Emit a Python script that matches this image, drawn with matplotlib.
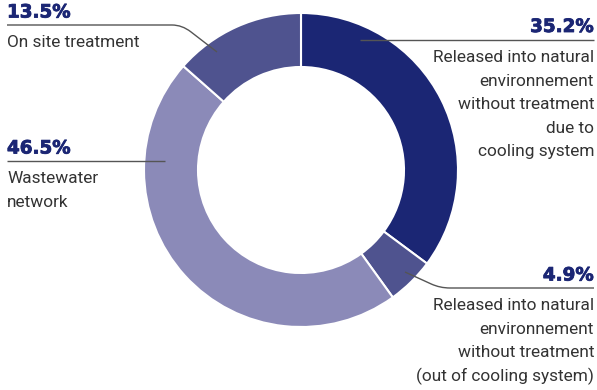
import numpy as np
import matplotlib.pyplot as plt
import matplotlib.patheffects as pe
from matplotlib.path import Path
from matplotlib.patches import PathPatch

# shares of discharged water by destination, clockwise from 12 o'clock
shares = [35.2, 4.9, 46.5, 13.5]
pct_labels = ['35.2%', '4.9%', '46.5%', '13.5%']
descriptions = [
    ['Released into natural', 'environnement', 'without treatment', 'due to', 'cooling system'],
    ['Released into natural', 'environnement', 'without treatment', '(out of cooling system)'],
    ['Wastewater', 'network'],
    ['On site treatment'],
]
colors = ['#1b2674', '#4f538f', '#8b8ab8', '#4f538f']

W, H = 597, 390
navy = '#1b2674'
textc = '#333333'
linec = '#555555'
body_font = ['Roboto', 'DejaVu Sans']

fig = plt.figure(figsize=(W / 100, H / 100), dpi=100)
ax = fig.add_axes([0, 0, 1, 1])

cx, cy, r_out, r_in = 301, H - 170, 157, 103
ax.pie(shares, colors=colors, startangle=90, counterclock=False,
       center=(cx, cy), radius=r_out, frame=True,
       wedgeprops=dict(width=r_out - r_in, edgecolor='white', linewidth=1.5))
ax.set_xlim(0, W)
ax.set_ylim(0, H)
ax.set_aspect('equal')
ax.axis('off')

# label blocks: (side, x of text, baseline of pct, leader path in px from top)
layout = [
    ('right', 594, 32, [(594, 40), (360, 40)]),
    ('right', 594, 280.5, [(594, 288), (440, 288), (405, 272)]),
    ('left', 7, 153.5, [(7, 161), (165, 161)]),
    ('left', 7, 17.5, [(7, 25), (182, 25), (217, 52)]),
]
first_line = [62, 310, 183, 47]
step = 23.6


def leader(pts):
    verts = [(pts[0][0], H - pts[0][1])]
    codes = [Path.MOVETO]
    if len(pts) == 2:
        verts.append((pts[1][0], H - pts[1][1]))
        codes.append(Path.LINETO)
    else:
        (x0, y0), (x1, y1), (x2, y2) = pts
        # round the elbow a little
        d = 10 if x1 > x0 else -10
        ex = x1 - d
        verts += [(ex, H - y1), (x1, H - y1), (x1 + (x2 - x1) * 0.25, H - (y1 + (y2 - y1) * 0.25)), (x2, H - y2)]
        codes += [Path.LINETO, Path.CURVE3, Path.CURVE3, Path.LINETO]
    ax.add_patch(PathPatch(Path(verts, codes), fill=False, edgecolor=linec, lw=1.0, zorder=5))


heavy = [pe.withStroke(linewidth=0.6, foreground=navy)]
for i, (side, tx, pct_y, pts) in enumerate(layout):
    ha = 'right' if side == 'right' else 'left'
    ax.text(tx, H - pct_y, pct_labels[i], ha=ha, va='baseline', fontsize=13.2,
            fontweight='bold', color=navy, family='DejaVu Sans', path_effects=heavy)
    leader(pts)
    for j, line in enumerate(descriptions[i]):
        ax.text(tx, H - (first_line[i] + j * step), line, ha=ha, va='baseline',
                fontsize=12.4, color=textc, family=body_font)

fig.savefig('out.png', dpi=100)
